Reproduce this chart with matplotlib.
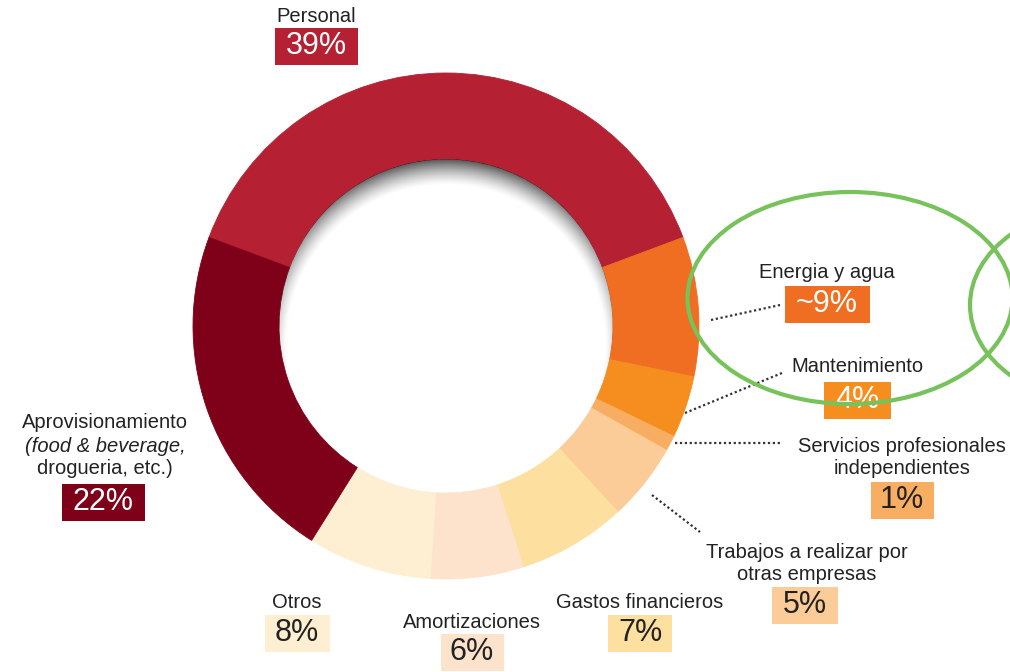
import numpy as np
import matplotlib.pyplot as plt
from matplotlib.patches import Circle, Ellipse, Rectangle

plt.rcParams['font.family'] = ['Liberation Sans', 'DejaVu Sans']

# datos
categorias = ['Personal', 'Energia y agua', 'Mantenimiento',
              'Servicios profesionales\nindependientes',
              'Trabajos a realizar por\notras empresas',
              'Gastos financieros', 'Amortizaciones', 'Otros',
              'Aprovisionamiento\n(food & beverage,\ndrogueria, etc.)']
valores = [39, 9, 4, 1, 5, 7, 6, 8, 22]
etiquetas_pct = ['39%', '~9%', '4%', '1%', '5%', '7%', '6%', '8%', '22%']
colores = ['#B52033', '#F06E22', '#F58E1E', '#F8AE62', '#FBCB98',
           '#FDDFA0', '#FDE3CB', '#FEEFD3', '#7E0019']
color_txt = ['white', 'white', 'white', '#222222', '#222222',
             '#222222', '#222222', '#222222', 'white']

W, H = 1010, 672
cx, cy = 446, H - 326        # centro del anillo
r_out, r_in = 253, 167

# posiciones (px, y hacia abajo): etiqueta, caja, ancho de caja
pos_lab = [(316, 16), (827, 272), (857, 367), (902, 458), (807, 563),
           (640, 603), (472, 622), (297, 603), (105, 446)]
pos_box = [(316, 46), (827, 304), (857, 400), (902, 500), (805, 605),
           (640, 633), (472, 652), (297, 633), (103, 502)]
ancho_box = [83, 85, 67, 63, 66, 64, 63, 65, 83]
alto_box = 37

lineas = [((711, 320), (780, 305)), ((685, 413), (782, 373)),
          ((675, 443), (782, 443)), ((652, 495), (700, 532))]

fig = plt.figure(figsize=(W / 100, H / 100), dpi=100)
ax = fig.add_axes([0, 0, 1, 1])

wedges, _ = ax.pie(valores, colors=colores, startangle=159.5, counterclock=False,
                   radius=r_out, center=(cx, cy),
                   wedgeprops=dict(width=r_out - r_in, linewidth=0.6))
for w in wedges:
    w.set_edgecolor(w.get_facecolor())

# sombra interior
n = 400
xs = np.linspace(cx - r_in, cx + r_in, n)
ys = np.linspace(cy - r_in, cy + r_in, n)
X, Y = np.meshgrid(xs, ys)
d = np.hypot(X - cx, Y - (cy - 18))
a = np.clip((d - (r_in - 8)) / 30, 0, 1) ** 1.4 * 0.8
img = np.zeros((n, n, 4))
img[..., 3] = a
im = ax.imshow(img, extent=(cx - r_in, cx + r_in, cy - r_in, cy + r_in),
               origin='lower', zorder=3, interpolation='bilinear')
im.set_clip_path(Circle((cx, cy), r_in, transform=ax.transData))

# etiquetas
for i, lab in enumerate(categorias):
    lx, ly = pos_lab[i]
    if i == 8:
        lineas_txt = lab.split('\n')
        for k, t in enumerate(lineas_txt):
            ax.text(lx, H - (ly - 23 + 23 * k), t, ha='center', va='center',
                    fontsize=14.5, color='#222222',
                    style='italic' if k == 1 else 'normal')
    else:
        ax.text(lx, H - ly, lab, ha='center', va='center', fontsize=14.5,
                color='#222222', linespacing=1.2)
    bx, by = pos_box[i]
    ax.add_patch(Rectangle((bx - ancho_box[i] / 2, H - by - alto_box / 2),
                           ancho_box[i], alto_box, facecolor=colores[i],
                           edgecolor='none', zorder=4))
    ax.text(bx, H - by, etiquetas_pct[i], ha='center', va='center',
            fontsize=22, color=color_txt[i], zorder=5)

for (x0, y0), (x1, y1) in lineas:
    ax.plot([x0, x1], [H - y0, H - y1], color='#333333', lw=1.6,
            linestyle=(0, (1, 1.2)))

# marcas verdes
ax.add_patch(Ellipse((850, H - 298), 325, 212, fill=False,
                     edgecolor='#77C25A', lw=3, zorder=6))
ax.add_patch(Ellipse((1110, H - 305), 280, 200, fill=False,
                     edgecolor='#77C25A', lw=3, zorder=6))

ax.set_xlim(0, W)
ax.set_ylim(0, H)
ax.set_aspect('equal')
ax.axis('off')

fig.savefig('out.png', dpi=100)
